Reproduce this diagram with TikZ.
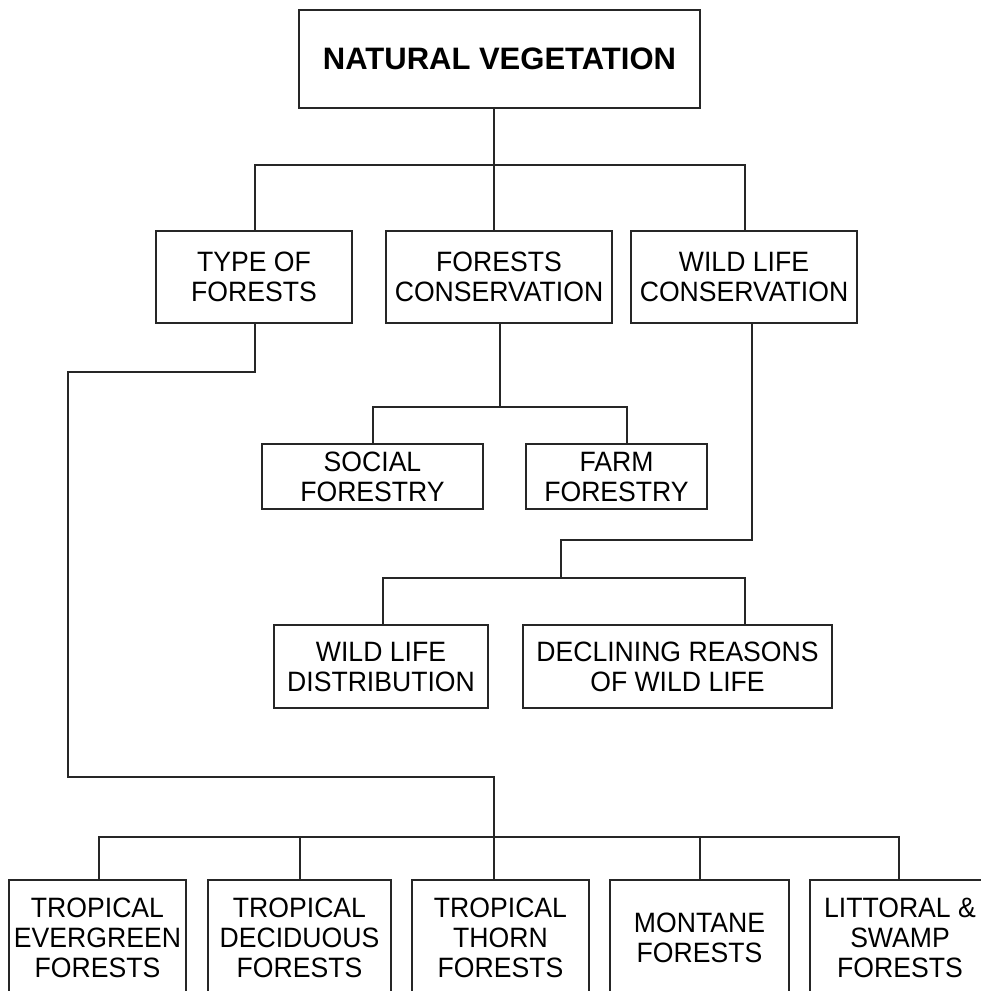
\documentclass[tikz,border=0pt]{standalone}
\usepackage{fontspec}
\setmainfont{Liberation Sans}
\newfontfamily\narrowsans{Liberation Sans}[FakeStretch=0.95]
\begin{document}
\begin{tikzpicture}[x=1pt,y=-1pt,
  box/.style={draw=black!85, line width=1.3pt, rectangle, inner sep=0pt, align=center,
    font=\narrowsans\fontsize{28}{30}\selectfont},
  topbox/.style={box, font=\rmfamily\fontsize{31}{36}\selectfont\bfseries},
  link/.style={draw=black!85, line width=1.3pt}]
\useasboundingbox (0,0) rectangle (981,991);
\clip (0,0) rectangle (981,991);
% level 0
\node[topbox, minimum width=401pt, minimum height=98pt] (nv) at (499.5,59) {NATURAL VEGETATION};
% level 1
\node[box, minimum width=196pt, minimum height=92pt] (tof) at (254,277) {TYPE OF\\FORESTS};
\node[box, minimum width=226pt, minimum height=92pt] (fc) at (499,277) {FORESTS\\CONSERVATION};
\node[box, minimum width=226pt, minimum height=92pt] (wl) at (744,277) {WILD LIFE\\CONSERVATION};
% forests conservation children
\node[box, minimum width=221pt, minimum height=65pt] (sf) at (372.5,476.5) {SOCIAL\\FORESTRY};
\node[box, minimum width=181pt, minimum height=65pt] (ff) at (616.5,476.5) {FARM\\FORESTRY};
% wild life children
\node[box, minimum width=214pt, minimum height=83pt] (wld) at (381,666.5) {WILD LIFE\\DISTRIBUTION};
\node[box, minimum width=309pt, minimum height=83pt] (dr) at (677.5,666.5) {DECLINING REASONS\\OF WILD LIFE};
% bottom row
\node[box, minimum width=177pt, minimum height=115pt] (te) at (97.5,937.5) {TROPICAL\\EVERGREEN\\FORESTS};
\node[box, minimum width=183pt, minimum height=115pt] (td) at (299.5,937.5) {TROPICAL\\DECIDUOUS\\FORESTS};
\node[box, minimum width=177pt, minimum height=115pt] (tt) at (500.5,937.5) {TROPICAL\\THORN\\FORESTS};
\node[box, minimum width=179pt, minimum height=115pt] (mo) at (699.5,937.5) {MONTANE\\FORESTS};
\node[box, minimum width=180pt, minimum height=115pt] (ls) at (900,937.5) {LITTORAL \&\\SWAMP\\FORESTS};
% junction coordinates
\coordinate (hL) at (255,165);
\coordinate (hM) at (494,165);
\coordinate (hR) at (745,165);
\coordinate (t1) at (255,372);
\coordinate (t2) at (68,372);
\coordinate (t3) at (68,777);
\coordinate (t4) at (494,777);
\coordinate (b1) at (99,837);
\coordinate (b2) at (300,837);
\coordinate (b3) at (494,837);
\coordinate (b4) at (700,837);
\coordinate (b5) at (899,837);
\coordinate (c1) at (500,407);
\coordinate (cL) at (373,407);
\coordinate (cR) at (627,407);
\coordinate (w1) at (752,540);
\coordinate (w2) at (561,540);
\coordinate (w3) at (561,578);
\coordinate (wL) at (383,578);
\coordinate (wR) at (745,578);
% connectors
\draw[link] (hM |- nv.south) -- (hM);
\draw[link] (hL |- tof.north) -- (hL) -- (hR) -- (hR |- wl.north);
\draw[link] (hM) -- (hM |- fc.north);
\draw[link] (t1 |- tof.south) -- (t1) -- (t2) -- (t3) -- (t4) -- (b3);
\draw[link] (b1 |- te.north) -- (b1) -- (b5) -- (b5 |- ls.north);
\draw[link] (b2) -- (b2 |- td.north);
\draw[link] (b3) -- (b3 |- tt.north);
\draw[link] (b4) -- (b4 |- mo.north);
\draw[link] (c1 |- fc.south) -- (c1);
\draw[link] (cL |- sf.north) -- (cL) -- (cR) -- (cR |- ff.north);
\draw[link] (w1 |- wl.south) -- (w1) -- (w2) -- (w3);
\draw[link] (wL |- wld.north) -- (wL) -- (wR) -- (wR |- dr.north);
\end{tikzpicture}
\end{document}
